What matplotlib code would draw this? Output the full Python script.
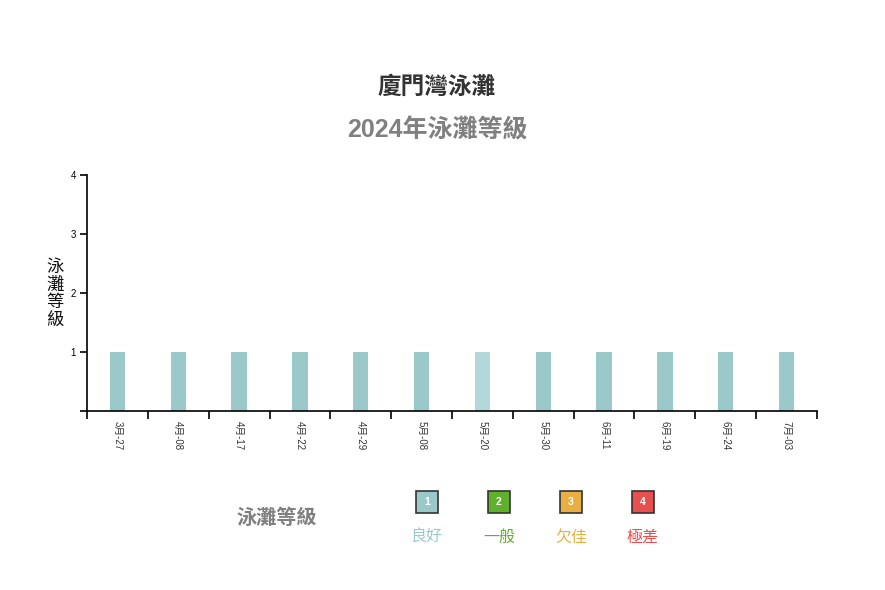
import matplotlib
matplotlib.use("Agg")
import matplotlib.pyplot as plt
from matplotlib.patches import Rectangle

plt.rcParams['font.family'] = ['Liberation Sans', 'Noto Sans CJK TC', 'DejaVu Sans']

# data
dates = ["3月-27", "4月-08", "4月-17", "4月-22", "4月-29", "5月-08",
         "5月-20", "5月-30", "6月-11", "6月-19", "6月-24", "7月-03"]
grades = [1, 1, 1, 1, 1, 1, 1, 1, 1, 1, 1, 1]
grade_levels = [1, 2, 3, 4]
grade_names = ["良好", "一般", "欠佳", "極差"]
grade_colors = ["#9bc9c9", "#5fb12b", "#e8b042", "#e8504f"]
highlight = "5月-20"

fig = plt.figure(figsize=(8.85, 5.9), dpi=100)
ax = fig.add_axes([87/885, 1-411/590, 730/885, 236/590])

bar_cols = []
for d, g in zip(dates, grades):
    c = grade_colors[g-1]
    if d == highlight:
        c = "#b4d8da"
    bar_cols.append(c)
x = list(range(len(dates)))
ax.bar(x, grades, width=0.25, color=bar_cols)

ax.set_xlim(-0.5, len(dates)-0.5)
ax.set_ylim(0, 4)
ax.spines['top'].set_visible(False)
ax.spines['right'].set_visible(False)
for s in ['left', 'bottom']:
    ax.spines[s].set_linewidth(1.2)

# band boundaries as major ticks, labels on minor ticks
ax.set_xticks([i - 0.5 for i in range(len(dates)+1)])
ax.set_xticklabels([])
ax.tick_params(axis='x', which='major', length=6, width=1.2)
ax.set_xticks(x, minor=True)
ax.set_xticklabels(dates, minor=True, rotation=-90, fontsize=7, color="#333333")
ax.tick_params(axis='x', which='minor', length=0, pad=7)

ax.set_yticks([0, 1, 2, 3, 4])
ax.set_yticklabels(["", "1", "2", "3", "4"], fontsize=7)
ax.tick_params(axis='y', length=5, width=1.2, pad=3)

fig.text(55/885, 1-294/590, "泳\n灘\n等\n級", fontsize=12.5, ha='center', va='center',
         linespacing=1.15, color="#111111")

fig.text(437/885, 1-87/590, "廈門灣泳灘", fontsize=17, fontweight='bold',
         ha='center', va='center', color="#333333")
fig.text(437/885, 1-130/590, "2024年泳灘等級", fontsize=18, fontweight='bold',
         ha='center', va='center', color="#808080")

# legend
fig.text(277/885, 1-518/590, "泳灘等級", fontsize=14.5, fontweight='bold',
         ha='center', va='center', color="#808080")
lx = [427, 499, 571, 643]
for px, lvl, nm, c in zip(lx, grade_levels, grade_names, grade_colors):
    w = 22/885
    h = 22/590
    fig.patches.append(Rectangle((px/885 - w/2, 1-502/590 - h/2), w, h,
                                 transform=fig.transFigure, facecolor=c,
                                 edgecolor="#333333", linewidth=1.2))
    fig.text(px/885, 1-502/590, str(lvl), fontsize=7.5, fontweight='bold',
             ha='center', va='center', color="white")
    fig.text(px/885, 1-537/590, nm, fontsize=11.5, ha='center', va='center', color=c)

fig.savefig("out.png", dpi=100)
